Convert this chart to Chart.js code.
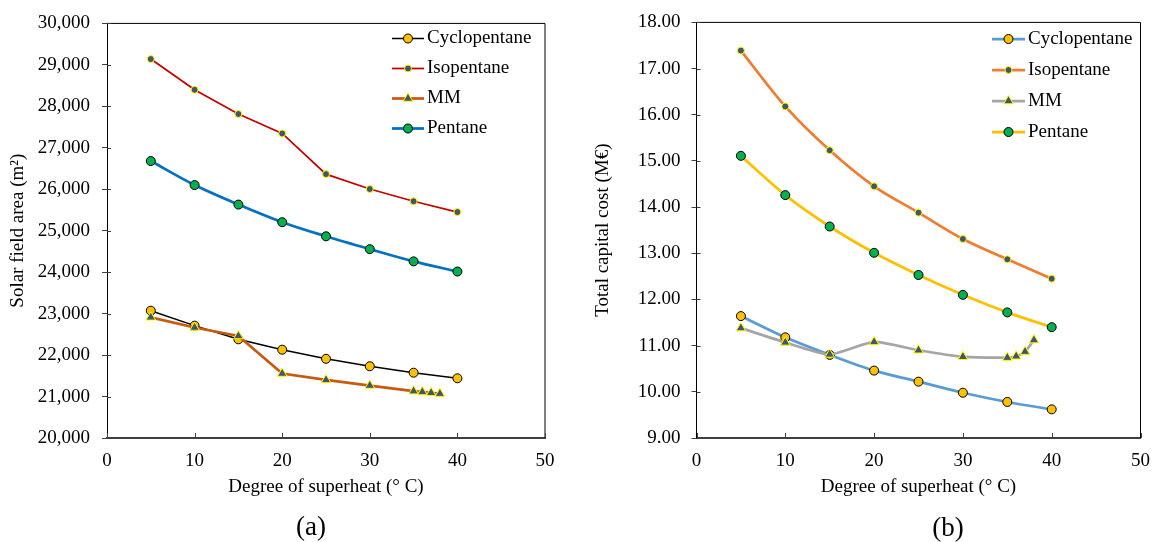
<!DOCTYPE html>
<html><head><meta charset="utf-8">
<script src="https://cdn.jsdelivr.net/npm/chart.js@4.4.1/dist/chart.umd.min.js"></script>
<style>
html,body{margin:0;padding:0;background:#fff;width:1162px;height:542px;overflow:hidden;}
.panel{position:absolute;top:0;}
.cap{position:absolute;font-family:'Liberation Serif','Times New Roman',serif;font-size:27px;color:#000;transform:translate(-50%,-50%);white-space:nowrap;line-height:1;}
</style></head><body>
<div class="panel" style="left:0;width:580px;height:542px"><canvas id="chartA" width="580" height="542"></canvas></div>
<div class="panel" style="left:580px;width:582px;height:542px"><canvas id="chartB" width="582" height="542"></canvas></div>
<div class="cap" style="left:311px;top:526px">(a)</div>
<div class="cap" style="left:948px;top:527px">(b)</div>
<script>
// ---------- data ----------
const superheat   = [5, 10, 15, 20, 25, 30, 35, 40];
const superheatMM = [5, 10, 15, 20, 25, 30, 35, 36, 37, 38];
const seriesNames = ['Cyclopentane', 'Isopentane', 'MM', 'Pentane'];
const xTickValues = [0, 10, 20, 30, 40, 50];

const areaCyclopentane = [23070, 22710, 22380, 22130, 21910, 21730, 21575, 21440];
const areaIsopentane   = [29140, 28400, 27815, 27345, 26365, 26005, 25710, 25450];
const areaMM           = [22910, 22665, 22460, 21555, 21400, 21265, 21130, 21110, 21090, 21070];
const areaPentane      = [26680, 26100, 25630, 25205, 24865, 24555, 24260, 24015];
const areaYTicks = [20000, 21000, 22000, 23000, 24000, 25000, 26000, 27000, 28000, 29000, 30000];

const costCyclopentane = [11.64, 11.18, 10.80, 10.46, 10.22, 9.98, 9.78, 9.62];
const costIsopentane   = [17.39, 16.18, 15.23, 14.45, 13.88, 13.31, 12.87, 12.45];
const costMM           = [11.38, 11.07, 10.81, 11.08, 10.90, 10.76, 10.74, 10.77, 10.87, 11.12];
const costPentane      = [15.11, 14.26, 13.58, 13.01, 12.53, 12.10, 11.72, 11.40];
const costYTicks = [9, 10, 11, 12, 13, 14, 15, 16, 17, 18];

const xTitle = 'Degree of superheat (° C)';
const areaTitle = 'Solar field area (m²)';
const costTitle = 'Total capital cost (M€)';

// ---------- helpers ----------
const pts = (xs, ys) => xs.map((x, i) => ({x: x, y: ys[i]}));
const FONT = "'Liberation Serif','Times New Roman',serif";

const circleOrange = {pointStyle: 'circle', pointRadius: 4.5, pointBackgroundColor: '#FFC000', pointBorderColor: '#000000', pointBorderWidth: 1};
const circleSlate  = {pointStyle: 'circle', pointRadius: 3.5, pointBackgroundColor: '#44546A', pointBorderColor: '#FFFF00', pointBorderWidth: 1};
const triSlate     = {pointStyle: 'triangle', pointRadius: 5.5, pointBackgroundColor: '#44546A', pointBorderColor: '#FFFF00', pointBorderWidth: 1};
const circleGreen  = {pointStyle: 'circle', pointRadius: 4.5, pointBackgroundColor: '#00B050', pointBorderColor: '#000000', pointBorderWidth: 1};

function ds(label, data, color, width, marker, tension, order) {
  return Object.assign({
    label: label, data: data, borderColor: color, borderWidth: width,
    tension: tension, order: order, fill: false, pointHoverRadius: marker.pointRadius
  }, marker);
}

const framePlugin = {
  id: 'frameTicks',
  beforeDatasetsDraw(chart) {
    const ctx = chart.ctx;
    const a = chart.chartArea;
    ctx.save();
    ctx.strokeStyle = '#000';
    ctx.lineWidth = 1;
    ctx.beginPath();
    ctx.moveTo(a.left, a.top);
    ctx.lineTo(a.right, a.top);
    ctx.lineTo(a.right, a.bottom);
    ctx.stroke();
    ctx.strokeStyle = '#404040';
    const xs = chart.scales.x;
    xs.ticks.forEach(t => {
      const px = Math.round(xs.getPixelForValue(t.value)) + 0.5;
      ctx.beginPath(); ctx.moveTo(px, a.bottom); ctx.lineTo(px, a.bottom - 5); ctx.stroke();
    });
    const ys = chart.scales.y;
    ys.ticks.forEach(t => {
      const py = Math.round(ys.getPixelForValue(t.value)) + 0.5;
      ctx.beginPath(); ctx.moveTo(a.left, py); ctx.lineTo(a.left + 4, py); ctx.stroke();
    });
    ctx.restore();
  }
};

function drawMarker(ctx, d, x, y) {
  ctx.fillStyle = d.pointBackgroundColor;
  ctx.strokeStyle = d.pointBorderColor;
  ctx.lineWidth = d.pointBorderWidth;
  if (Chart.helpers && Chart.helpers.drawPoint) {
    Chart.helpers.drawPoint(ctx, {pointStyle: d.pointStyle, radius: d.pointRadius, rotation: 0, borderWidth: d.pointBorderWidth}, x, y);
    return;
  }
  const r = d.pointRadius;
  ctx.beginPath();
  if (d.pointStyle === 'triangle') {
    ctx.moveTo(x, y - r);
    ctx.lineTo(x + r * 0.866, y + r * 0.5);
    ctx.lineTo(x - r * 0.866, y + r * 0.5);
    ctx.closePath();
  } else {
    ctx.arc(x, y, r, 0, Math.PI * 2);
  }
  ctx.fill(); ctx.stroke();
}

const legendPlugin = {
  id: 'lineLegend',
  afterDraw(chart, args, opts) {
    const ctx = chart.ctx;
    ctx.save();
    chart.data.datasets.forEach((d, i) => {
      const y = opts.y + i * opts.gap;
      ctx.beginPath();
      ctx.strokeStyle = d.borderColor;
      ctx.lineWidth = d.borderWidth;
      ctx.moveTo(opts.x, y); ctx.lineTo(opts.x + opts.len, y);
      ctx.stroke();
      drawMarker(ctx, d, opts.x + opts.len / 2, y);
      ctx.fillStyle = '#000';
      ctx.font = '19px ' + FONT;
      ctx.textBaseline = 'middle';
      ctx.textAlign = 'left';
      ctx.fillText(d.label, opts.x + opts.len + opts.textGap, y);
    });
    ctx.restore();
  }
};

function makeChart(id, datasets, cfg) {
  return new Chart(document.getElementById(id), {
    type: 'line',
    data: {datasets: datasets},
    plugins: [framePlugin, legendPlugin],
    options: {
      responsive: false, animation: false, devicePixelRatio: 1,
      layout: {padding: {left: 0, right: cfg.padRight, top: 15, bottom: 0}},
      plugins: {legend: {display: false}, tooltip: {enabled: false}, lineLegend: cfg.legend},
      scales: {
        x: {
          type: 'linear', min: 0, max: 50,
          afterBuildTicks: s => { s.ticks = xTickValues.map(v => ({value: v})); },
          afterFit: s => { s.height = 104; },
          grid: {display: true, drawOnChartArea: false, drawTicks: false},
          border: {display: true, color: '#404040', width: 2},
          ticks: {color: '#000', font: {family: FONT, size: 19}, padding: 12, maxRotation: 0, autoSkip: false},
          title: {display: true, text: xTitle, color: '#000', font: {family: FONT, size: 19}, padding: {top: 0, bottom: 44}}
        },
        y: {
          type: 'linear', min: cfg.ymin, max: cfg.ymax,
          afterBuildTicks: s => { s.ticks = cfg.yTicks.map(v => ({value: v})); },
          afterFit: s => { s.width = cfg.yWidth; },
          grid: {display: true, drawOnChartArea: false, drawTicks: true, tickLength: 5, color: '#404040'},
          border: {display: true, color: '#000', width: 1},
          ticks: {color: '#000', font: {family: FONT, size: 19}, padding: cfg.tickPad, autoSkip: false, callback: cfg.fmt},
          title: {display: true, text: cfg.yTitle, color: '#000', font: {family: FONT, size: 19}, padding: {top: cfg.titlePad, bottom: 0}}
        }
      }
    }
  });
}

makeChart('chartA', [
  ds(seriesNames[0], pts(superheat, areaCyclopentane), '#000000', 1.5, circleOrange, 0, 4),
  ds(seriesNames[1], pts(superheat, areaIsopentane),   '#C00000', 1.75, circleSlate, 0, 3),
  ds(seriesNames[2], pts(superheatMM, areaMM),         '#C55A11', 2.75, triSlate, 0, 2),
  ds(seriesNames[3], pts(superheat, areaPentane),      '#0070C0', 2.75, circleGreen, 0.33, 1)
], {
  padRight: 35, ymin: 20000, ymax: 30000, yTicks: areaYTicks, yWidth: 107, tickPad: 12,
  titlePad: 7, yTitle: areaTitle,
  fmt: v => Number(v).toLocaleString('en-US'),
  legend: {x: 392, y: 38.5, gap: 30, len: 32, textGap: 3}
});

makeChart('chartB', [
  ds(seriesNames[0], pts(superheat, costCyclopentane), '#5B9BD5', 2.75, circleOrange, 0.33, 4),
  ds(seriesNames[1], pts(superheat, costIsopentane),   '#ED7D31', 2.75, circleSlate, 0.33, 3),
  ds(seriesNames[2], pts(superheatMM, costMM),         '#A5A5A5', 2.75, triSlate, 0.2, 2),
  ds(seriesNames[3], pts(superheat, costPentane),      '#FFC000', 2.75, circleGreen, 0.33, 1)
], {
  padRight: 13, ymin: 9, ymax: 18, yTicks: costYTicks, yWidth: 116.5, tickPad: 11,
  titlePad: 12, yTitle: costTitle,
  fmt: v => Number(v).toFixed(2),
  legend: {x: 412, y: 39, gap: 31, len: 33, textGap: 3}
});
</script>
</body></html>
